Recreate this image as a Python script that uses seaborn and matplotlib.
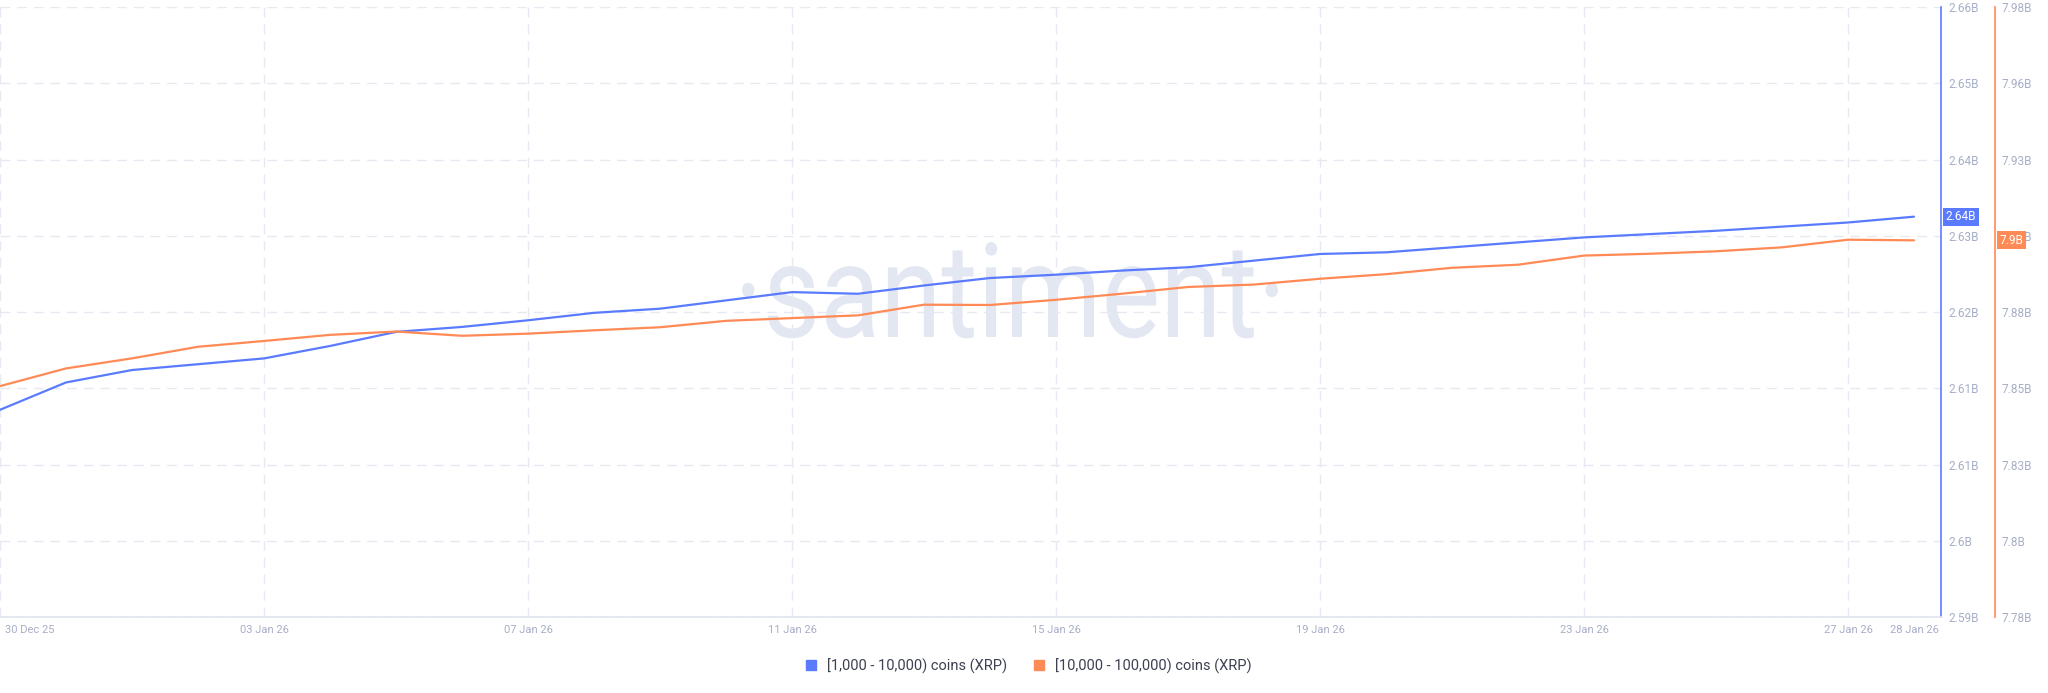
import pandas as pd
import matplotlib
matplotlib.use("Agg")
import matplotlib.pyplot as plt
import matplotlib.transforms as mtransforms
from matplotlib.lines import Line2D
from matplotlib.textpath import TextPath
from matplotlib.patches import PathPatch
from matplotlib.font_manager import FontProperties
import seaborn as sns

# data (values in billions of XRP)
dates = pd.date_range("2025-12-30", "2026-01-28", freq="D")
coins_1k_10k = [2.6123, 2.6156, 2.6171, 2.6178, 2.6185, 2.6200, 2.6217, 2.6223, 2.6231, 2.6240,
                2.6245, 2.6255, 2.6265, 2.6263, 2.6273, 2.6282, 2.6286, 2.6291, 2.6295, 2.6303,
                2.6311, 2.6313, 2.6319, 2.6325, 2.6331, 2.6335, 2.6339, 2.6344, 2.6349, 2.6356]
coins_10k_100k = [7.8557, 7.8615, 7.8648, 7.8686, 7.8705, 7.8725, 7.8736, 7.8722, 7.8729, 7.8740,
                  7.8750, 7.8771, 7.8780, 7.8789, 7.8824, 7.8823, 7.8840, 7.8860, 7.8882, 7.8890,
                  7.8909, 7.8924, 7.8945, 7.8955, 7.8985, 7.8991, 7.8999, 7.9012, 7.9037, 7.9035]

left_ticks = [2.5873, 2.5965, 2.6057, 2.6149, 2.6241, 2.6333, 2.6425, 2.6517, 2.6609]
left_labels = ["2.59B", "2.6B", "2.61B", "2.61B", "2.62B", "2.63B", "2.64B", "2.65B", "2.66B"]
right_ticks = [7.78, 7.805, 7.83, 7.855, 7.88, 7.905, 7.93, 7.955, 7.98]
right_labels = ["7.78B", "7.8B", "7.83B", "7.85B", "7.88B", "7.91B", "7.93B", "7.96B", "7.98B"]

xtick_dates = pd.to_datetime(["2025-12-30", "2026-01-03", "2026-01-07", "2026-01-11", "2026-01-15",
                              "2026-01-19", "2026-01-23", "2026-01-27", "2026-01-28"])
grid_dates = pd.to_datetime(["2025-12-30", "2026-01-03", "2026-01-07", "2026-01-11", "2026-01-15",
                             "2026-01-19", "2026-01-23", "2026-01-27"])

names = ["[1,000 - 10,000) coins (XRP)", "[10,000 - 100,000) coins (XRP)"]
blue = "#5a7bff"
orange = "#ff8a55"
tick_col = "#a7aec6"
grid_col = "#e6e9f1"

sns.set_theme(style="white")
plt.rcParams["font.family"] = ["Roboto", "DejaVu Sans"]

fig = plt.figure(figsize=(20.48, 6.93), dpi=100)
ax = fig.add_axes([0, 76 / 693, 1941 / 2048, 610 / 693])
ax2 = ax.twinx()

# watermark: narrow, tall lettering -> squeeze a text path (pixel box from the reference)
tp = TextPath((0, 0), "·santiment·", size=100, prop=FontProperties(family="Roboto"))
ext = tp.get_extents()
wm_left, wm_base, wm_w, wm_h = 742, 693 - 337, 536, 95
wm_tr = (mtransforms.Affine2D().translate(-ext.x0, 0)
         .scale(wm_w / ext.width, wm_h / ext.y1).translate(wm_left, wm_base))
ax.add_patch(PathPatch(wm_tr.transform_path(tp), transform=mtransforms.IdentityTransform(),
                       fc="#e3e7f1", ec="none", zorder=0))

sns.lineplot(x=dates, y=coins_1k_10k, ax=ax, color=blue, linewidth=1.6, zorder=3)
sns.lineplot(x=dates, y=coins_10k_100k, ax=ax2, color=orange, linewidth=1.6, zorder=3)

x0 = pd.Timestamp("2025-12-30")
ax.set_xlim(x0, x0 + pd.Timedelta(days=1941 / 66))
ax.set_ylim(left_ticks[0], left_ticks[-1])
ax2.set_ylim(right_ticks[0], right_ticks[-1])

# y axes, both on the right
ax.yaxis.tick_right()
ax.set_yticks(left_ticks)
ax.set_yticklabels(left_labels)
ax2.set_yticks(right_ticks)
ax2.set_yticklabels(right_labels)
for a in (ax, ax2):
    a.tick_params(axis="y", length=0, pad=5, labelsize=8.5, labelcolor=tick_col)
    a.set_xlabel("")
    a.set_ylabel("")

ax.grid(axis="y", color=grid_col, linestyle=(0, (7, 5)), linewidth=1)
ax.grid(axis="x", visible=False)
ax2.grid(False)
for d in grid_dates:
    ax.axvline(d, color=grid_col, linestyle=(0, (7, 5)), linewidth=1, zorder=1)

ax.set_xticks(xtick_dates)
ax.set_xticklabels([d.strftime("%d %b %y") for d in xtick_dates])
ax.tick_params(axis="x", length=0, pad=6, labelsize=8, labelcolor=tick_col)
first = ax.get_xticklabels()[0]
first.set_ha("left")
first.set_transform(first.get_transform() + mtransforms.ScaledTranslation(5 / 100, 0, fig.dpi_scale_trans))

for s in ["top", "left"]:
    ax.spines[s].set_visible(False)
ax.spines["bottom"].set_color("#e3e6ef")
ax.spines["right"].set_color(blue)
ax.spines["right"].set_linewidth(1.2)
for s in ["top", "left", "bottom"]:
    ax2.spines[s].set_visible(False)
ax2.spines["right"].set_position(("axes", 1995 / 1941))
ax2.spines["right"].set_color(orange)
ax2.spines["right"].set_linewidth(1.2)

# last value badges
tr1 = mtransforms.blended_transform_factory(ax.transAxes, ax.transData)
ax.text(1.0025, coins_1k_10k[-1], "2.64B", transform=tr1, ha="left", va="center", fontsize=8.5,
        color="white", bbox=dict(boxstyle="square,pad=0.2", fc=blue, ec="none"), clip_on=False, zorder=5)
tr2 = mtransforms.blended_transform_factory(ax2.transAxes, ax2.transData)
ax2.text(1995 / 1941 + 0.0025, coins_10k_100k[-1], "7.9B", transform=tr2, ha="left", va="center",
         fontsize=8.5, color="white", bbox=dict(boxstyle="square,pad=0.2", fc=orange, ec="none"),
         clip_on=False, zorder=5)

handles = [Line2D([], [], marker="s", linestyle="", color=c, markersize=7) for c in (blue, orange)]
fig.legend(handles, names, loc="center", bbox_to_anchor=(0.5, 27 / 693), ncol=2, frameon=False,
           fontsize=10.5, labelcolor="#3d4150", handletextpad=0.1, columnspacing=1.2)

fig.savefig("out.png", dpi=100)
